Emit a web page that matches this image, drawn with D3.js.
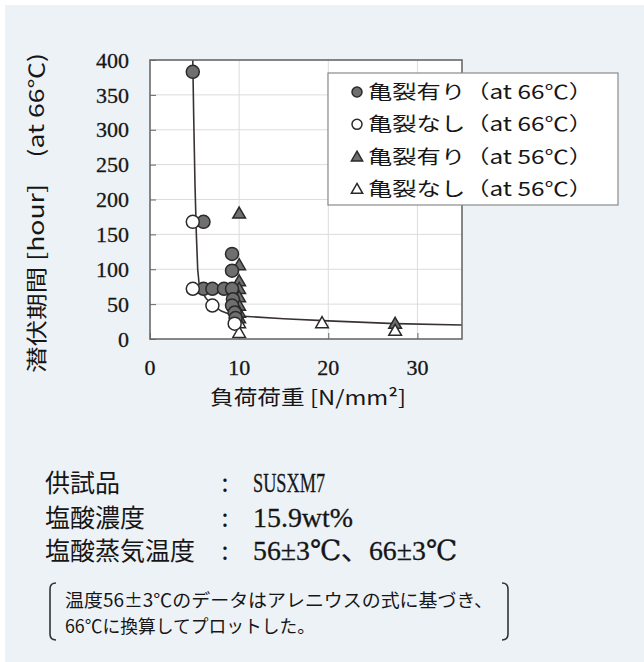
<!DOCTYPE html>
<html>
<head>
<meta charset="utf-8">
<script src="https://cdn.jsdelivr.net/npm/d3@7"></script>
<style>
  html, body { margin: 0; padding: 0; background: #ffffff; }
  svg { display: block; }
</style>
</head>
<body>
<svg id="chart" width="644" height="662"></svg>
<script>
// Delayed-fracture test: load stress vs. incubation time (converted to 66°C)
const crack66Load   = [4.8, 6.0, 6.0, 7.0, 8.3, 9.2, 9.2, 9.2, 9.3, 9.2, 9.5, 9.6];
const crack66Hours  = [383, 168, 72, 72, 72, 72, 122, 98, 57, 48, 38, 30];
const noCrack66Load  = [4.8, 4.8, 7.0, 9.5];
const noCrack66Hours = [168, 72, 48, 22];
const crack56Load   = [10, 10, 10, 10, 10, 10, 10, 10, 27.5];
const crack56Hours  = [180, 106, 83, 72, 60, 48, 38, 30, 22];
const noCrack56Load  = [10, 10, 19.3, 27.5];
const noCrack56Hours = [23, 9, 23, 12];
// fitted trend line
const curveLoad  = [4.8, 4.9, 5.05, 5.2, 5.35, 5.5, 5.8, 6.3, 7.0, 8.0, 9.0, 10, 15, 20, 27.5, 35];
const curveHours = [400, 320, 220, 150, 100, 80, 68, 58, 49, 40, 35, 33, 29, 26, 22, 20];

const xTicks = [0, 10, 20, 30];
const yTicks = [0, 50, 100, 150, 200, 250, 300, 350, 400];

const legendLabels = ["亀裂有り（at 66℃）", "亀裂なし（at 66℃）", "亀裂有り（at 56℃）", "亀裂なし（at 56℃）"];

const infoKeys = ["供試品", "塩酸濃度", "塩酸蒸気温度"];
const infoVals = ["SUSXM7", "15.9wt%", "56±3℃、66±3℃"];
const noteLines = ["温度56±3℃のデータはアレニウスの式に基づき、", "66℃に換算してプロットした。"];

const serif = "'Liberation Serif', 'DejaVu Serif', 'Noto Sans CJK JP', serif";
const cjk = "'Noto Sans CJK JP', 'Liberation Serif', sans-serif";
const ink = "#161616";

const svg = d3.select("#chart");

// page panel
svg.append("rect").attr("x", 5).attr("y", 5).attr("width", 639).attr("height", 657).attr("fill", "#edf2f7");

const plot = { left: 150, right: 462, top: 60, bottom: 339 };
const x = d3.scaleLinear().domain([0, 35]).range([plot.left, plot.right]);
const y = d3.scaleLinear().domain([0, 400]).range([plot.bottom, plot.top]);

svg.append("rect")
  .attr("x", plot.left).attr("y", plot.top)
  .attr("width", plot.right - plot.left).attr("height", plot.bottom - plot.top)
  .attr("fill", "#ffffff");

// gridlines
const grid = svg.append("g").attr("stroke", "#dcdcdc").attr("stroke-width", 1);
grid.selectAll("line.h").data(yTicks.slice(1)).join("line")
  .attr("x1", plot.left).attr("x2", plot.right)
  .attr("y1", d => y(d)).attr("y2", d => y(d));
grid.selectAll("line.v").data(xTicks.slice(1)).join("line")
  .attr("y1", plot.top).attr("y2", plot.bottom)
  .attr("x1", d => x(d)).attr("x2", d => x(d));

// axes with inward ticks
const yAxis = svg.append("g").attr("transform", `translate(${plot.left},0)`)
  .call(d3.axisRight(y).tickValues(yTicks).tickSize(6).tickFormat(""));
yAxis.select(".domain").remove();
yAxis.selectAll("line").attr("stroke", "#666");
const xAxis = svg.append("g").attr("transform", `translate(0,${plot.bottom})`)
  .call(d3.axisTop(x).tickValues(xTicks).tickSize(6).tickFormat(""));
xAxis.select(".domain").remove();
xAxis.selectAll("line").attr("stroke", "#666");

// tick labels
svg.append("g").selectAll("text").data(yTicks).join("text")
  .attr("x", 129).attr("y", d => y(d)).attr("dy", "0.35em")
  .attr("text-anchor", "end")
  .attr("font-family", serif).attr("font-size", 22).attr("fill", ink)
  .attr("stroke", ink).attr("stroke-width", 0.3)
  .text(d => d);
svg.append("g").selectAll("text").data(xTicks).join("text")
  .attr("x", d => x(d)).attr("y", 375)
  .attr("text-anchor", "middle")
  .attr("font-family", serif).attr("font-size", 22).attr("fill", ink)
  .attr("stroke", ink).attr("stroke-width", 0.3)
  .text(d => d);

// trend line
const curve = curveLoad.map((v, i) => [v, curveHours[i]]);
svg.append("path")
  .datum(curve)
  .attr("d", d3.line().x(d => x(d[0])).y(d => y(d[1])))
  .attr("fill", "none").attr("stroke", "#3a3232").attr("stroke-width", 1.6);

// markers
const gray = "#6f6f6f", edge = "#2a2a2a";
const triSym = d3.symbol().type(d3.symbolTriangle).size(70);
const triSymSmall = d3.symbol().type(d3.symbolTriangle).size(55);

function pts(loads, hours) { return loads.map((v, i) => [v, hours[i]]); }

const marks = svg.append("g");
marks.selectAll("path.t56").data(pts(crack56Load, crack56Hours)).join("path")
  .attr("d", triSym).attr("transform", d => `translate(${x(d[0])},${y(d[1]) + 1})`)
  .attr("fill", gray).attr("stroke", edge).attr("stroke-width", 1.5);
marks.selectAll("path.to56").data(pts(noCrack56Load, noCrack56Hours)).join("path")
  .attr("d", triSym).attr("transform", d => `translate(${x(d[0])},${y(d[1]) + 1})`)
  .attr("fill", "#ffffff").attr("stroke", edge).attr("stroke-width", 1.5);
marks.selectAll("circle.c66").data(pts(crack66Load, crack66Hours)).join("circle")
  .attr("cx", d => x(d[0])).attr("cy", d => y(d[1])).attr("r", 6.5)
  .attr("fill", gray).attr("stroke", edge).attr("stroke-width", 1.5);
marks.selectAll("circle.o66").data(pts(noCrack66Load, noCrack66Hours)).join("circle")
  .attr("cx", d => x(d[0])).attr("cy", d => y(d[1])).attr("r", 6.5)
  .attr("fill", "#ffffff").attr("stroke", edge).attr("stroke-width", 1.5);

// plot frame
svg.append("rect")
  .attr("x", plot.left).attr("y", plot.top)
  .attr("width", plot.right - plot.left).attr("height", plot.bottom - plot.top)
  .attr("fill", "none").attr("stroke", "#6a6a6a").attr("stroke-width", 1.6);

// legend
const lg = svg.append("g");
lg.append("rect").attr("x", 328).attr("y", 73).attr("width", 290).attr("height", 132)
  .attr("fill", "#ffffff").attr("stroke", "#8a8a8a").attr("stroke-width", 1.2);
const legendY = d3.scalePoint().domain(d3.range(4)).range([92, 189]);
legendLabels.forEach((lab, i) => {
  const cy = legendY(i);
  if (i < 2) {
    lg.append("circle").attr("cx", 357).attr("cy", cy).attr("r", 5)
      .attr("fill", i === 0 ? gray : "#fff").attr("stroke", edge).attr("stroke-width", 1.5);
  } else {
    lg.append("path").attr("d", triSymSmall).attr("transform", `translate(357,${cy + 1})`)
      .attr("fill", i === 2 ? gray : "#fff").attr("stroke", edge).attr("stroke-width", 1.5);
  }
  lg.append("text").attr("x", 368).attr("y", cy).attr("dy", "0.36em")
    .attr("font-family", cjk).attr("font-size", 19).attr("fill", ink)
    .attr("textLength", 225).attr("lengthAdjust", "spacingAndGlyphs")
    .text(lab);
});

// axis titles
svg.append("text").attr("x", 308).attr("y", 405).attr("text-anchor", "middle")
  .attr("font-family", cjk).attr("font-size", 20).attr("fill", ink)
  .attr("textLength", 196).attr("lengthAdjust", "spacingAndGlyphs")
  .text("負荷荷重 [N/mm²]");
svg.append("text")
  .attr("transform", "translate(44,213) rotate(-90)")
  .attr("text-anchor", "middle")
  .attr("font-family", cjk).attr("font-size", 21).attr("fill", ink)
  .attr("textLength", 320).attr("lengthAdjust", "spacingAndGlyphs")
  .text("潜伏期間 [hour]　(at 66℃)");

// specimen info
const infoY = [492, 527, 560];
const infoValW = [72, 100, 204];
infoKeys.forEach((k, i) => {
  svg.append("text").attr("x", 45).attr("y", infoY[i])
    .attr("font-family", cjk).attr("font-size", 25).attr("fill", ink)
    .attr("textLength", k.length * 25).attr("lengthAdjust", "spacingAndGlyphs")
    .text(k);
  svg.append("text").attr("x", 225).attr("y", infoY[i]).attr("text-anchor", "middle")
    .attr("font-family", cjk).attr("font-size", 25).attr("fill", ink).text(":");
  svg.append("text").attr("x", 253).attr("y", infoY[i])
    .attr("font-family", serif).attr("font-size", 28).attr("fill", ink)
    .attr("stroke", ink).attr("stroke-width", 0.3)
    .attr("textLength", infoValW[i]).attr("lengthAdjust", "spacingAndGlyphs")
    .text(infoVals[i]);
});

// bracketed note
const noteY = [607, 633];
const noteW = [428, 250];
noteLines.forEach((t, i) => {
  svg.append("text").attr("x", 65).attr("y", noteY[i])
    .attr("font-family", cjk).attr("font-size", 18).attr("fill", ink)
    .attr("textLength", noteW[i]).attr("lengthAdjust", "spacingAndGlyphs")
    .text(t);
});
const br = svg.append("g").attr("fill", "none").attr("stroke", "#333").attr("stroke-width", 1.6);
br.append("path").attr("d", "M56,583 Q50,583 50,589 L50,634 Q50,640 56,640");
br.append("path").attr("d", "M502,583 Q508,583 508,589 L508,634 Q508,640 502,640");
</script>
</body>
</html>
